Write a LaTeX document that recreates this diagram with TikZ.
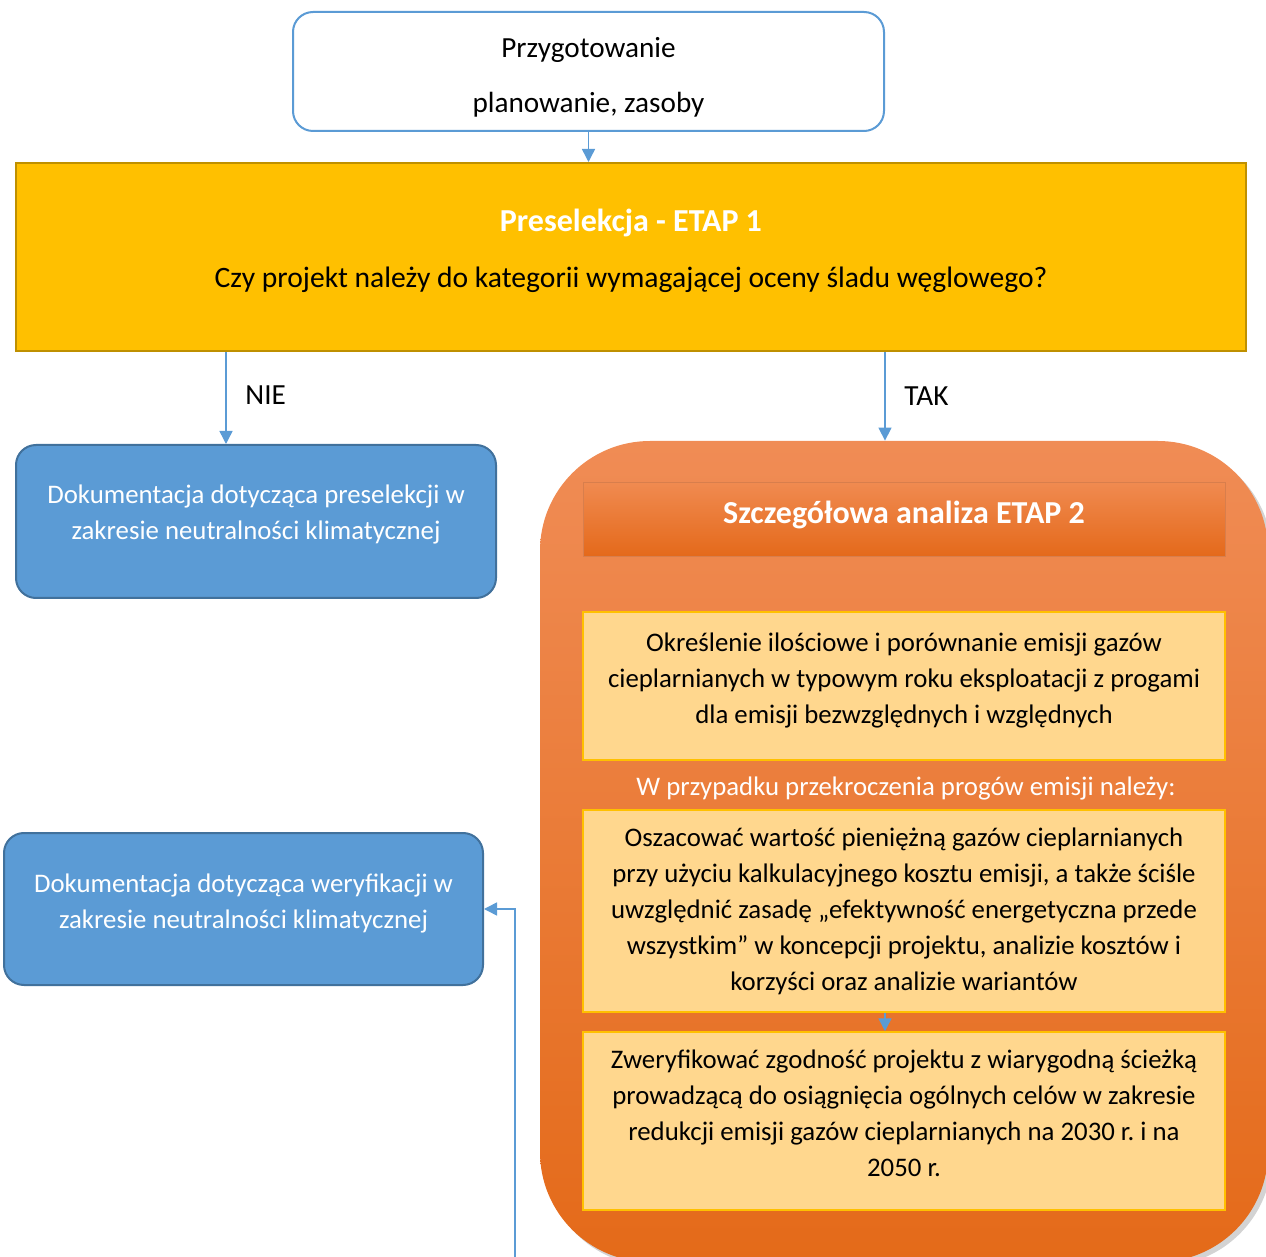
\documentclass[tikz,border=0pt]{standalone}
\usepackage{fontspec}
\setmainfont{Carlito}
\usetikzlibrary{arrows.meta, positioning, shadows}
\frenchspacing
\definecolor{accblue}{HTML}{5B9BD5}
\definecolor{accblueline}{HTML}{41719C}
\definecolor{accgold}{HTML}{FFC000}
\definecolor{accgoldline}{HTML}{BF9000}
\definecolor{orangetop}{HTML}{F08C55}
\definecolor{orangebottom}{HTML}{E46A19}
\definecolor{headtop}{HTML}{F08A50}
\definecolor{headbottom}{HTML}{E4691A}
\definecolor{stepfill}{HTML}{FFD78E}
\newcommand{\bodyfont}{\fontsize{14.6}{18}\selectfont}
\newcommand{\boxfont}{\fontsize{13.4}{18}\selectfont}
\newcommand{\headfont}{\fontsize{16}{19}\selectfont\bfseries}
% struts that move a box text up or down
\newcommand{\lift}[1]{\rule[-#1]{0pt}{0pt}}
\newcommand{\drop}[1]{\rule{0pt}{#1}}
\tikzset{%
	prep box/.style={
		draw=accblue, line width=1pt, fill=white,
		rounded corners=10pt,
		minimum width=295.5pt, minimum height=59.5pt,
		align=center, font=\fontsize{14.6}{27.5}\selectfont
	},
	stage box/.style={
		draw=accgoldline, line width=1pt, fill=accgold,
		minimum width=615pt, minimum height=94pt
	},
	doc box/.style={
		draw=accblueline, line width=1pt, fill=accblue,
		rounded corners=10pt, text=white,
		minimum width=240pt, minimum height=76.5pt,
		align=center, font=\boxfont
	},
	step box/.style={
		draw=accgold, line width=0.75pt, fill=stepfill,
		minimum width=321pt,
		align=center, font=\boxfont
	},
	flow arrow/.style={
		draw=accblue, line width=0.75pt,
		-{Triangle[width=6.5pt, length=6.5pt]}
	},
}
\begin{document}
\begin{tikzpicture}[x=0.5pt, y=-0.5pt]
	\useasboundingbox (0,0) rectangle (1266,1257);
	\clip (0,0) rectangle (1266,1257);
	
	% Preparation and first stage
	\node (prep) [prep box] at (588.5,71.5) {\drop{16pt}Przygotowanie\\planowanie, zasoby};
	\node (etap1) [stage box] at (631,257) {};
	\node (etap1title) [font=\headfont, text=white] at (631,223) {Preselekcja - ETAP 1};
	\node (etap1q) [font=\fontsize{14.8}{18}\selectfont] at (631,280) {Czy projekt należy do kategorii wymagającej oceny śladu węglowego?};
	
	% Documentation boxes
	\node (doc1) [doc box] at (256,521.5) {Dokumentacja dotycząca preselekcji w\\zakresie neutralności klimatycznej\lift{9pt}};
	\node (doc2) [doc box, minimum width=239.5pt, minimum height=76pt] at (243.5,909) {Dokumentacja dotycząca weryfikacji w\\zakresie neutralności klimatycznej\lift{8pt}};
	
	% Second stage
	\node (analysis) [rounded corners=55pt, top color=orangetop, bottom color=orangebottom,
		minimum width=364pt, minimum height=410.5pt,
		drop shadow={opacity=0.35, shadow xshift=2pt, shadow yshift=-2pt}] at (904,851.5) {};
	\node (etap2head) [draw=orangetop!90!black, line width=0.5pt, top color=headtop, bottom color=headbottom,
		minimum width=321pt, minimum height=37pt, font=\headfont, text=white] at (904,520) {Szczegółowa analiza ETAP 2\lift{8pt}};
	\node (stepA) [step box, minimum height=74pt] at (904,686) {Określenie ilościowe i porównanie emisji gazów\\cieplarnianych w typowym roku eksploatacji z progami\\dla emisji bezwzględnych i względnych\lift{8pt}};
	\node (note) [font=\boxfont, text=white] at (906,788) {W przypadku przekroczenia progów emisji należy:};
	\node (stepB) [step box, minimum height=101pt] at (904,911) {Oszacować wartość pieniężną gazów cieplarnianych\\przy użyciu kalkulacyjnego kosztu emisji, a także ściśle\\uwzględnić zasadę „efektywność energetyczna przede\\wszystkim” w koncepcji projektu, analizie kosztów i\\korzyści oraz analizie wariantów};
	\node (stepC) [step box, minimum height=89pt] at (904,1121) {Zweryfikować zgodność projektu z wiarygodną ścieżką\\prowadzącą do osiągnięcia ogólnych celów w zakresie\\redukcji emisji gazów cieplarnianych na 2030 r. i na\\2050 r.\lift{8pt}};
	\coordinate (loopstart) at (515,1257);
	
	% Connectors
	\draw[flow arrow] (prep.south) -- (prep.south |- etap1.north);
	\draw[flow arrow] ([xshift=-15pt]doc1.north |- etap1.south) -- node (nie) [right=6pt, yshift=1.5pt, font=\bodyfont] {NIE} ([xshift=-15pt]doc1.north);
	\draw[flow arrow] ([xshift=-9.5pt]analysis.north |- etap1.south) -- node (tak) [right=6pt, font=\bodyfont] {TAK} ([xshift=-9.5pt]analysis.north);
	\draw[flow arrow] ([xshift=-9.5pt]stepB.south) -- ([xshift=-9.5pt]stepC.north);
	\draw[flow arrow] (loopstart) |- (doc2.east);
\end{tikzpicture}
\end{document}
